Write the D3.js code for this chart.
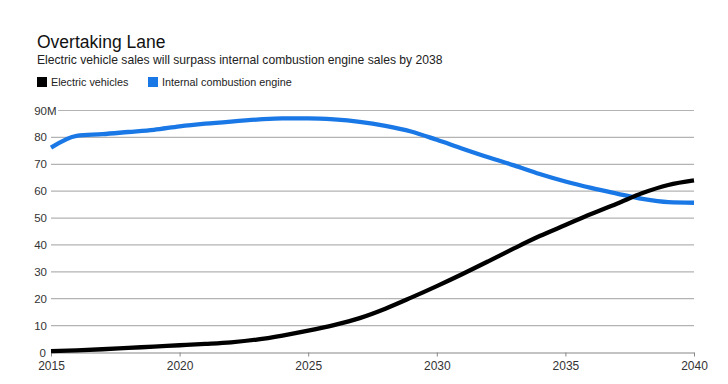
<!DOCTYPE html>
<html><head><meta charset="utf-8">
<script src="https://cdn.jsdelivr.net/npm/d3@7"></script>
<style>
html,body{margin:0;padding:0;background:#fff;}
svg{display:block;font-family:"Liberation Sans",Arial,sans-serif;}
</style></head>
<body>
<svg id="c" width="728" height="384"></svg>
<script>
const years = d3.range(2015, 2041);
const evSales = [0.5,0.8,1.2,1.7,2.2,2.7,3.2,3.8,4.8,6.3,8.1,10.2,12.8,16.3,20.4,24.7,29.2,33.9,38.7,43.3,47.4,51.5,55.3,59.3,62.3,64.0];
const iceSales = [76.2,80.6,81.2,82.0,82.8,84.1,85.1,85.9,86.6,87.1,87.1,86.7,85.8,84.3,82.2,79.1,75.8,72.6,69.6,66.4,63.6,61.2,59.1,57.1,55.9,55.7];
const yTicks = [0,10,20,30,40,50,60,70,80,90];
const xTicks = [2015,2020,2025,2030,2035,2040];
const seriesNames = ["Electric vehicles","Internal combustion engine"];
const colors = ["#000000","#1a78e6"];

const svg = d3.select("#c");
const x = d3.scaleLinear().domain([2015,2040]).range([51,694]);
const y = d3.scaleLinear().domain([0,90]).range([352.5,110.5]);

// title
svg.append("text").attr("x",37).attr("y",48).attr("font-size",17.5).attr("fill","#111").text("Overtaking Lane");
svg.append("text").attr("x",37).attr("y",64).attr("font-size",12.15).attr("fill","#222")
  .text("Electric vehicle sales will surpass internal combustion engine sales by 2038");

// legend
const legX = [37,148];
seriesNames.forEach((n,i)=>{
  svg.append("rect").attr("x",legX[i]).attr("y",77).attr("width",10).attr("height",10).attr("fill",colors[i]);
  svg.append("text").attr("x",legX[i]+14).attr("y",86).attr("font-size",10.8).attr("fill","#222").text(n);
});

// grid
yTicks.forEach(t=>{
  if(t===0) return;
  svg.append("line").attr("x1", t===90?58:51).attr("x2",694)
    .attr("y1",y(t)).attr("y2",y(t)).attr("stroke","#b3b3b3").attr("stroke-width",1.2);
  svg.append("text").attr("x",47).attr("y",y(t)+4).attr("text-anchor","end")
    .attr("font-size",11.5).attr("fill","#333").text(t);
});
svg.append("text").attr("x",47).attr("y",y(90)+4).attr("font-size",11.5).attr("fill","#333").text("M");
svg.append("text").attr("x",46).attr("y",y(0)+4).attr("text-anchor","end")
  .attr("font-size",11.5).attr("fill","#333").text("0");

// x axis
const xAxis = svg.append("g").attr("transform",`translate(0,${y(0)})`)
  .call(d3.axisBottom(x).tickValues(xTicks).tickFormat(d3.format("d")).tickSize(4).tickPadding(5).tickSizeOuter(0));
xAxis.select(".domain").attr("stroke","#888").attr("stroke-width",1.2);
xAxis.selectAll(".tick line").attr("stroke","#888");
xAxis.selectAll("text").attr("font-size",12).attr("fill","#333").attr("font-family","Liberation Sans, Arial, sans-serif");

// lines
const line = d3.line().x((d,i)=>x(years[i])).y(d=>y(d)).curve(d3.curveMonotoneX);
[iceSales, evSales].forEach((s,k)=>{
  svg.append("path").datum(s).attr("d",line).attr("fill","none")
    .attr("stroke", k===0?colors[1]:colors[0]).attr("stroke-width",4.3)
    .attr("stroke-linejoin","round").attr("stroke-linecap","butt");
});
</script>
</body></html>
